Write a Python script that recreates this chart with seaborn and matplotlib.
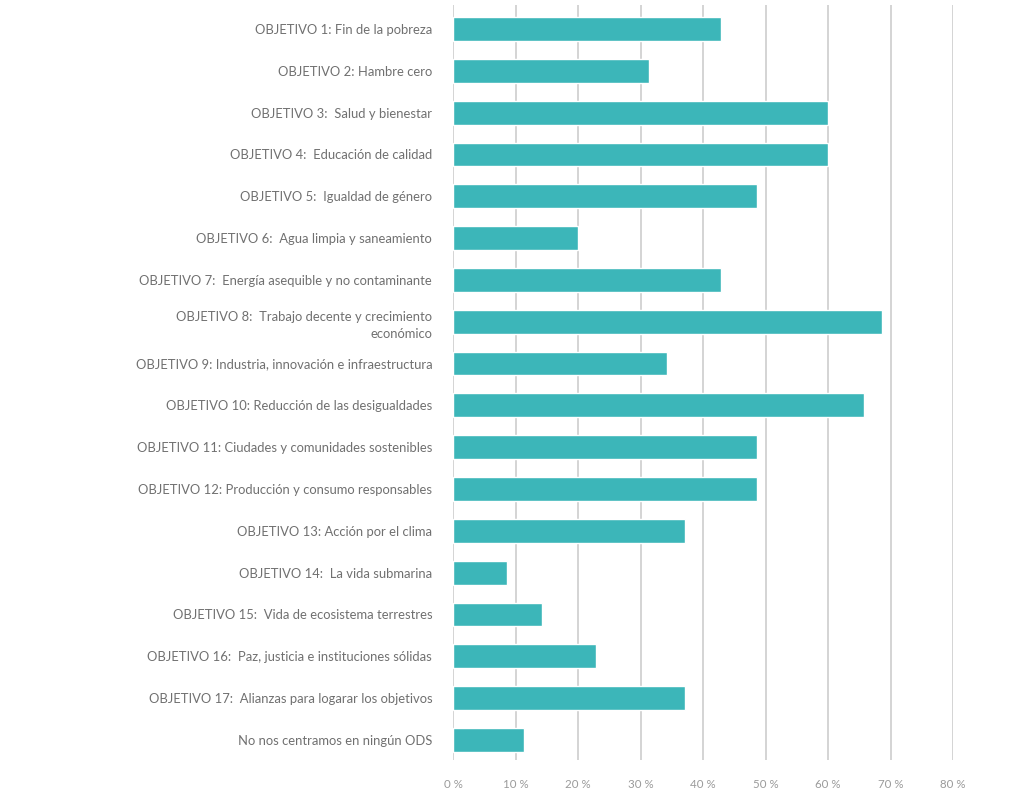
import matplotlib
matplotlib.use("Agg")
import matplotlib.pyplot as plt
import seaborn as sns
import pandas as pd

categories = [
    "OBJETIVO 1: Fin de la pobreza",
    "OBJETIVO 2: Hambre cero",
    "OBJETIVO 3:  Salud y bienestar",
    "OBJETIVO 4:  Educación de calidad",
    "OBJETIVO 5:  Igualdad de género",
    "OBJETIVO 6:  Agua limpia y saneamiento",
    "OBJETIVO 7:  Energía asequible y no contaminante",
    "OBJETIVO 8:  Trabajo decente y crecimiento\neconómico",
    "OBJETIVO 9: Industria, innovación e infraestructura",
    "OBJETIVO 10: Reducción de las desigualdades",
    "OBJETIVO 11: Ciudades y comunidades sostenibles",
    "OBJETIVO 12: Producción y consumo responsables",
    "OBJETIVO 13: Acción por el clima",
    "OBJETIVO 14:  La vida submarina",
    "OBJETIVO 15:  Vida de ecosistema terrestres",
    "OBJETIVO 16:  Paz, justicia e instituciones sólidas",
    "OBJETIVO 17:  Alianzas para logarar los objetivos",
    "No nos centramos en ningún ODS",
]
values = [42.9, 31.4, 60.0, 60.0, 48.6, 20.0, 42.9, 68.6, 34.3,
          65.7, 48.6, 48.6, 37.1, 8.6, 14.3, 22.9, 37.1, 11.4]
tick_values = [0, 10, 20, 30, 40, 50, 60, 70, 80]
tick_labels = ["0 %", "10 %", "20 %", "30 %", "40 %", "50 %", "60 %", "70 %", "80 %"]

df = pd.DataFrame({"cat": categories, "val": values})

sns.set_style("white")
plt.rcParams["font.family"] = ["Lato", "DejaVu Sans"]

fig = plt.figure(figsize=(10.23, 8.05), dpi=100)
ax = fig.add_axes([453 / 1023, 45 / 805, 500 / 1023, 755 / 805])

sns.barplot(data=df, y="cat", x="val", orient="h", color="#3cb6b9",
            saturation=1, width=0.57, ax=ax, zorder=3)

ax.set_xlim(0, 80)
ax.set_ylim(17.48, -0.575)
ax.set_xticks(tick_values)
ax.set_xticklabels(tick_labels)
ax.set_xlabel("")
ax.set_ylabel("")

ax.grid(axis="x", color="#d4d4d4", linewidth=1.4, zorder=0)
ax.grid(axis="y", visible=False)
for s in ax.spines.values():
    s.set_visible(False)

ax.tick_params(axis="y", length=0, pad=15, labelsize=9.4, labelcolor="#707070")
ax.tick_params(axis="x", length=3, width=1, color="#d4d4d4", pad=11,
               labelsize=8.3, labelcolor="#9a9a9a")
for lbl in ax.get_yticklabels():
    lbl.set_linespacing(1.5)

fig.savefig("out.png", dpi=100)
